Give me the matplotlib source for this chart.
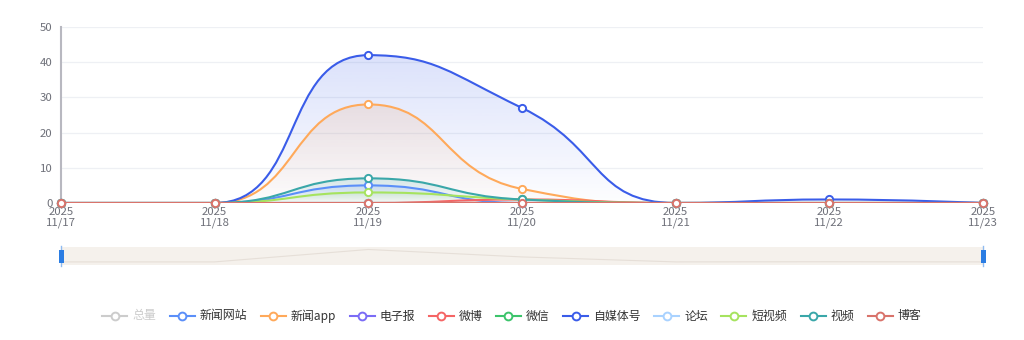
import numpy as np
import matplotlib
matplotlib.use("Agg")
import matplotlib.pyplot as plt
from matplotlib.path import Path
from matplotlib.patches import PathPatch, Rectangle
from matplotlib.lines import Line2D
from matplotlib.colors import to_rgb

plt.rcParams['font.family'] = ['Noto Sans CJK SC', 'DejaVu Sans']

dates = ["2025\n11/17", "2025\n11/18", "2025\n11/19", "2025\n11/20",
         "2025\n11/21", "2025\n11/22", "2025\n11/23"]

news_site = [0, 0, 5, 0, 0, 0, 0]
news_app = [0, 0, 28, 4, 0, 0, 0]
e_paper = [0, 0, 0, 0, 0, 0, 0]
weibo = [0, 0, 0, 1, 0, 0, 0]
wechat = [0, 0, 0, 0, 0, 0, 0]
we_media = [0, 0, 42, 27, 0, 1, 0]
forum = [0, 0, 0, 0, 0, 0, 0]
short_video = [0, 0, 3, 1, 0, 0, 0]
video = [0, 0, 7, 1, 0, 0, 0]
blog = [0, 0, 0, 0, 0, 0, 0]

total = [sum(v) for v in zip(news_site, news_app, e_paper, weibo, wechat, we_media,
                             forum, short_video, video, blog)]

series = [
    ("新闻网站", news_site, "#5b8ff9"),
    ("新闻app", news_app, "#ffa95a"),
    ("电子报", e_paper, "#7b6cf6"),
    ("微博", weibo, "#f56565"),
    ("微信", wechat, "#3cc46b"),
    ("自媒体号", we_media, "#3a5ce9"),
    ("论坛", forum, "#a9d2ff"),
    ("短视频", short_video, "#a6e35f"),
    ("视频", video, "#3aa7a9"),
    ("博客", blog, "#d9736b"),
]
legend_names = ["总量"] + [s[0] for s in series]
legend_colors = ["#cccccc"] + [s[2] for s in series]

# pixel scale used for echarts-like smoothing
SX, SY = 153.7, 3.52


def smooth_path(xs, ys, smooth=0.5):
    # port of echarts' smooth line (control points clamped to neighbours)
    px = [x * SX for x in xs]
    py = [y * SY for y in ys]
    n = len(px)
    verts = [(px[0], py[0])]
    codes = [Path.MOVETO]
    cp0x, cp0y = px[0], py[0]
    for i in range(1, n):
        x, y = px[i], py[i]
        prevX, prevY = px[i - 1], py[i - 1]
        if i == n - 1:
            cp1x, cp1y = x, y
            ncx, ncy = x, y
        else:
            nextX, nextY = px[i + 1], py[i + 1]
            vx, vy = nextX - prevX, nextY - prevY
            lp = np.hypot(x - prevX, y - prevY)
            ln = np.hypot(nextX - x, nextY - y)
            r = ln / (ln + lp)
            ncx = x + vx * smooth * r
            ncy = y + vy * smooth * r
            ncx = min(ncx, max(nextX, x)); ncy = min(ncy, max(nextY, y))
            ncx = max(ncx, min(nextX, x)); ncy = max(ncy, min(nextY, y))
            vx, vy = ncx - x, ncy - y
            cp1x = x - vx * lp / ln
            cp1y = y - vy * lp / ln
            cp1x = min(cp1x, max(prevX, x)); cp1y = min(cp1y, max(prevY, y))
            cp1x = max(cp1x, min(prevX, x)); cp1y = max(cp1y, min(prevY, y))
            vx, vy = x - cp1x, y - cp1y
            ncx = x + vx * ln / lp
            ncy = y + vy * ln / lp
        verts += [(cp0x, cp0y), (cp1x, cp1y), (x, y)]
        codes += [Path.CURVE4] * 3
        cp0x, cp0y = ncx, ncy
    verts = [(vx_ / SX, vy_ / SY) for vx_, vy_ in verts]
    return verts, codes


fig = plt.figure(figsize=(10.24, 3.4), dpi=100)
W, H = 1024, 340
L, R, T, B = 61, 983, 27, 203
ax = fig.add_axes([L / W, 1 - B / H, (R - L) / W, (B - T) / H])

x = np.arange(len(dates))
ax.set_xlim(0, len(dates) - 1)
ax.set_ylim(0, 50)
ax.set_yticks([0, 10, 20, 30, 40, 50])
ax.set_xticks(x)
ax.set_xticklabels(dates, linespacing=1.05)
ax.tick_params(axis='both', length=0, labelsize=8.2, labelcolor="#6e7079")
ax.tick_params(axis='x', pad=3)
ax.tick_params(axis='y', pad=6)
for sp in ["top", "right", "bottom"]:
    ax.spines[sp].set_visible(False)
ax.spines["left"].set_color("#b8b8c0")
ax.spines["left"].set_linewidth(1.5)
ax.grid(axis='y', color="#eef0f4", linewidth=0.9)
ax.set_axisbelow(True)

grad = np.linspace(0, 1, 256).reshape(-1, 1)
for k, (name, vals, col) in enumerate(series):
    verts, codes = smooth_path(list(x), vals)
    z = 3 + k * 0.1
    if max(vals) > 0:
        area_v = verts + [(x[-1], 0), (x[0], 0), verts[0]]
        area_c = codes + [Path.LINETO, Path.LINETO, Path.CLOSEPOLY]
        patch = PathPatch(Path(area_v, area_c), facecolor='none', edgecolor='none')
        ax.add_patch(patch)
        rgba = np.zeros((256, 1, 4))
        rgba[..., :3] = to_rgb(col)
        rgba[..., 3] = 0.01 + 0.17 * grad
        im = ax.imshow(rgba, extent=[x[0], x[-1], 0, max(vals)], origin='lower',
                       aspect='auto', zorder=2 + k * 0.01, interpolation='bilinear')
        im.set_clip_path(patch)
    ax.add_patch(PathPatch(Path(verts, codes), facecolor='none', edgecolor=col,
                           linewidth=1.5, zorder=z, capstyle='round'))
    ax.plot(x, vals, linestyle='none', marker='o', ms=5.2, mfc='white', mec=col,
            mew=1.4, zorder=z + 0.05, clip_on=False)

# data zoom slider
sax = fig.add_axes([L / W, 1 - 265 / H, (R - L) / W, 18 / H])
sax.set_xlim(0, len(dates) - 1)
sax.set_ylim(-max(total) * 0.25, max(total) * 1.2)
sax.add_patch(Rectangle((0, 0), 1, 1, transform=sax.transAxes, facecolor="#f5f1ec",
                        edgecolor='none', zorder=0))
sax.plot(x, total, color="#e6dfd8", lw=0.8, zorder=1)
sax.axis('off')
for hx in (L, R):
    fig.add_artist(Line2D([hx / W, hx / W], [1 - 246 / H, 1 - 266 / H], color="#8fbbf0",
                          lw=1.0, zorder=3))
    fig.add_artist(Rectangle(((hx - 2.5) / W, 1 - 263 / H), 5 / W, 13 / H,
                             facecolor="#2b7de3", edgecolor='none', zorder=4))

# legend
renderer = fig.canvas.get_renderer()
items = []
cur = 0.0
gap = 13.5
for name, col in zip(legend_names, legend_colors):
    tcol = "#cccccc" if name == "总量" else "#333333"
    t = fig.text(0, 1 - 316 / H, name, fontsize=8.6, color=tcol, va='center', ha='left')
    w = t.get_window_extent(renderer).width
    items.append((t, col, cur))
    cur += 25 + 5 + w + gap
cur -= gap
start = (W - cur) / 2
for t, col, off in items:
    x0 = start + off
    yy = 1 - 316 / H
    fig.add_artist(Line2D([x0 / W, (x0 + 25) / W], [yy, yy], color=col, lw=1.5))
    fig.add_artist(Line2D([(x0 + 12.5) / W], [yy], marker='o', ms=5.6, mfc='white',
                          mec=col, mew=1.4, linestyle='none'))
    t.set_x((x0 + 30) / W)

fig.savefig("out.png", dpi=100)
